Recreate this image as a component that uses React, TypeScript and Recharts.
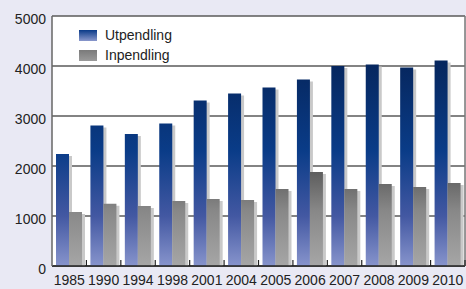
import { BarChart, Bar, XAxis, YAxis, CartesianGrid } from 'recharts';

const years = ['1985', '1990', '1994', '1998', '2001', '2004', '2005', '2006', '2007', '2008', '2009', '2010'];
const utpendling = [2240, 2810, 2640, 2850, 3310, 3450, 3570, 3730, 4000, 4030, 3970, 4110];
const inpendling = [1080, 1245, 1200, 1300, 1340, 1320, 1540, 1880, 1540, 1640, 1580, 1660];
const yTicks = [0, 1000, 2000, 3000, 4000, 5000];
const seriesNames = ['Utpendling', 'Inpendling'];

const data = years.map((year, i) => ({
  year,
  utpendling: utpendling[i],
  inpendling: inpendling[i],
}));

const W = 466;
const H = 289;
const TOP = 16;
const LEFT = 52;
const BOTTOM = 23;
const AXIS_Y = H - BOTTOM;
const BAND = (W - LEFT - 1) / years.length;
const FONT = '"Liberation Sans", Arial, sans-serif';

const ShadowBar = (fill: string) => (props: any) => {
  const { x, y, width, height } = props;
  if (!height || height <= 0) return null;
  return (
    <g>
      <rect x={x + 3} y={y + 2} width={width} height={height - 2} fill="#c9c9c9" />
      <rect x={x} y={y} width={width} height={height} fill={fill} />
    </g>
  );
};

const XTick = (props: any) => {
  const { x, payload } = props;
  return (
    <g>
      <line x1={x + BAND / 2} y1={AXIS_Y} x2={x + BAND / 2} y2={AXIS_Y - 6} stroke="#222" strokeWidth={1.2} />
      <text x={x} y={AXIS_Y + 9} dy="0.71em" textAnchor="middle" fontSize={14} fontFamily={FONT} fill="#222">
        {payload.value}
      </text>
    </g>
  );
};

const YTick = (props: any) => {
  const { x, y, payload } = props;
  return (
    <text x={x} y={y + 3} dy="0.355em" textAnchor="end" fontSize={14} fontFamily={FONT} fill="#222">
      {payload.value}
    </text>
  );
};

const swatches = ['linear-gradient(#0a3a88, #8a98cc)', 'linear-gradient(#7a7a7a, #9a9a9a)'];

export default function App() {
  return (
    <div style={{ position: 'absolute', left: 0, top: 0, width: W, height: H, background: '#e9e9f4' }}>
      <BarChart
        width={W}
        height={H}
        data={data}
        margin={{ top: TOP, right: 0, left: 0, bottom: 0 }}
        barSize={13}
        barGap={0}
      >
        <defs>
          <linearGradient id="blueGrad" gradientUnits="userSpaceOnUse" x1="0" y1={TOP} x2="0" y2={AXIS_Y}>
            <stop offset="0" stopColor="#001a4e" />
            <stop offset="0.2" stopColor="#06275f" />
            <stop offset="0.54" stopColor="#0a3c88" />
            <stop offset="0.8" stopColor="#4358a2" />
            <stop offset="1" stopColor="#8794cc" />
          </linearGradient>
          <linearGradient id="grayGrad" gradientUnits="userSpaceOnUse" x1="0" y1={TOP} x2="0" y2={AXIS_Y}>
            <stop offset="0" stopColor="#404040" />
            <stop offset="0.62" stopColor="#5c5c5c" />
            <stop offset="0.78" stopColor="#888888" />
            <stop offset="1" stopColor="#a6a6a6" />
          </linearGradient>
        </defs>
        <CartesianGrid vertical={false} stroke="#5a5a5a" strokeWidth={1.5} fill="#ffffff" />
        <XAxis
          dataKey="year"
          height={BOTTOM}
          tickSize={0}
          tickMargin={0}
          tickLine={false}
          axisLine={{ stroke: '#222', strokeWidth: 1.5 }}
          tick={<XTick />}
          interval={0}
        />
        <YAxis
          width={LEFT}
          domain={[0, 5000]}
          ticks={yTicks}
          tickSize={4}
          tickMargin={2}
          tickLine={false}
          axisLine={{ stroke: '#666', strokeWidth: 1.5 }}
          tick={<YTick />}
        />
        <YAxis
          yAxisId="right"
          orientation="right"
          width={1}
          tick={false}
          tickLine={false}
          axisLine={{ stroke: '#777', strokeWidth: 1.5 }}
        />
        <Bar dataKey="utpendling" name={seriesNames[0]} shape={ShadowBar('url(#blueGrad)')} isAnimationActive={false} />
        <Bar dataKey="inpendling" name={seriesNames[1]} shape={ShadowBar('url(#grayGrad)')} isAnimationActive={false} />
      </BarChart>
      <div
        style={{
          position: 'absolute',
          left: 79,
          top: 25,
          fontFamily: FONT,
          fontSize: 14,
          color: '#222',
          lineHeight: '20px',
        }}
      >
        {seriesNames.map((name, i) => (
          <div key={name} style={{ display: 'flex', alignItems: 'center' }}>
            <span style={{ width: 18, height: 11, marginRight: 8, background: swatches[i] }} />
            {name}
          </div>
        ))}
      </div>
    </div>
  );
}
